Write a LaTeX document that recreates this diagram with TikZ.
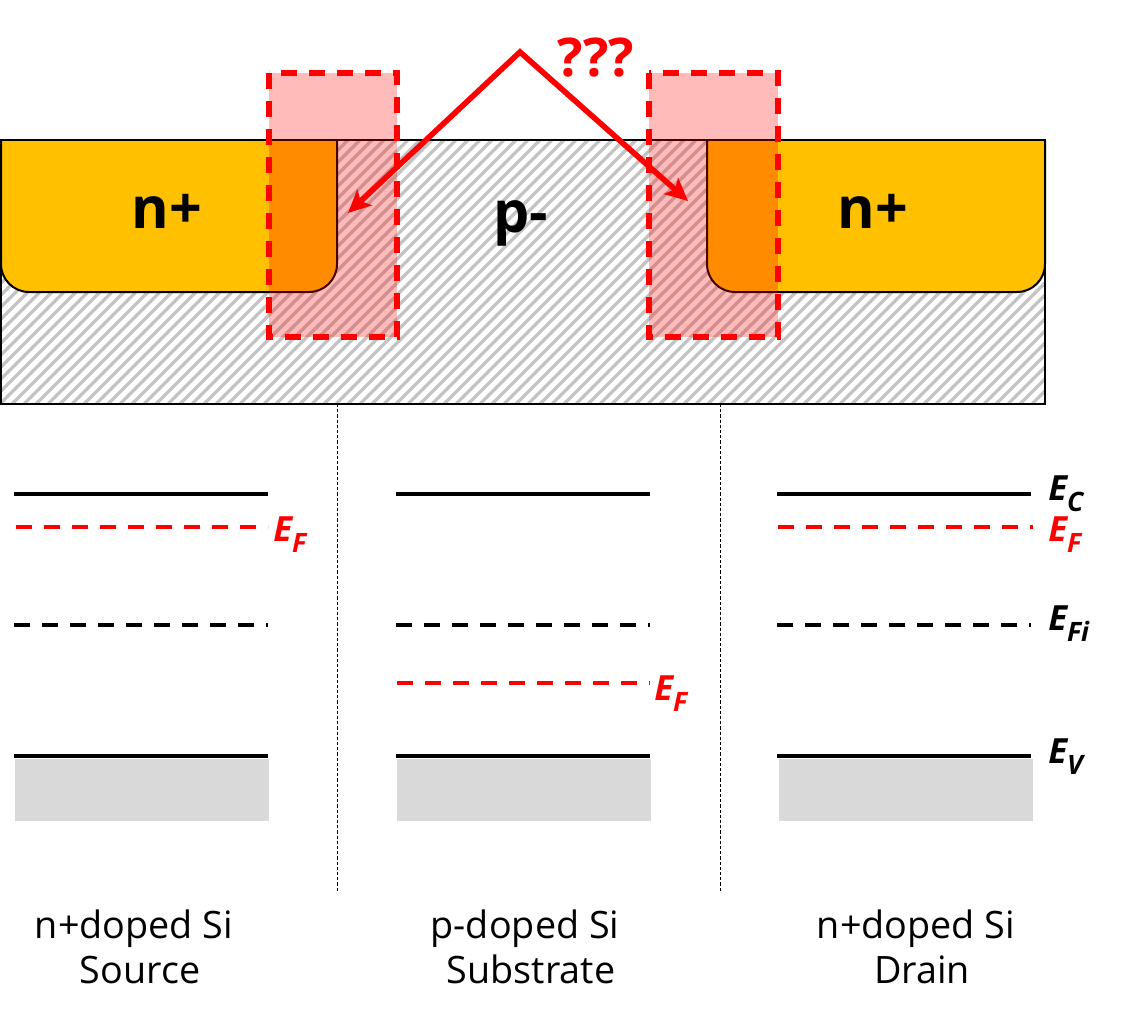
\documentclass[tikz,border=0pt]{standalone}
\usepackage{fontspec}
\setmainfont{Open Sans}
\usetikzlibrary{arrows.meta}
\tikzset{
  x=0.75pt,y=-0.75pt,
  hatch/.style={draw=hatchgray,line width=2.5pt},
  outline/.style={draw=black,line width=1.5pt},
  doped/.style={fill=dopeyellow,draw=black,line width=1.5pt,rounded corners=21pt},
  overlay/.style={fill=red,fill opacity=0.27,draw=none},
  overlayline/.style={draw=red,line width=4pt,dash pattern=on 12pt off 9pt},
  level/.style={draw=black,line width=3.2pt},
  levelred/.style={draw=red,line width=3.2pt,dash pattern=on 12pt off 9pt},
  levelblack/.style={draw=black,line width=3.2pt,dash pattern=on 12pt off 9pt},
  band/.style={fill=bandgray,draw=none},
  divider/.style={draw=black,line width=0.75pt,dash pattern=on 2.4pt off 1.5pt},
  bigtext/.style={font=\fontsize{43}{43}\selectfont\bfseries,anchor=base},
  elabel/.style={font=\fontsize{26}{26}\selectfont\bfseries\itshape,anchor=base west,inner sep=0pt},
  caption/.style={font=\fontsize{28.3}{28.3}\selectfont,anchor=base,inner sep=0pt},
  pointer/.style={draw=red,line width=4.2pt,{Stealth[length=17pt,width=16pt,inset=4pt]}-{Stealth[length=17pt,width=16pt,inset=4pt]},miter limit=10}
}
\definecolor{hatchgray}{HTML}{C4C4C4}
\definecolor{dopeyellow}{HTML}{FFC000}
\definecolor{bandgray}{HTML}{D9D9D9}
\newcommand{\esub}[1]{E\raisebox{-0.32em}{\fontsize{20}{20}\selectfont #1}}
\begin{document}
\begin{tikzpicture}
\useasboundingbox (0,0) rectangle (1131,1015);
\begin{scope}
  \clip (1,140) rectangle (1045,404);
  \foreach \i in {-276,-264,...,1056}
    \draw[hatch] (\i,404) -- (\i+264,140);
\end{scope}
\draw[outline] (1,140) rectangle (1045,404);
\draw[doped] (1,140) -- (1,292) -- (337,292) -- (337,140);
\draw[doped] (707,140) -- (707,292) -- (1045,292) -- (1045,140);
\draw[outline] (1,140) -- (1045,140);
\fill[overlay] (269,73) rectangle (397,337);
\fill[overlay] (649,73) rectangle (778,337);
\draw[overlayline] (269,73) rectangle (397,337);
\draw[overlayline] (649,73) rectangle (778,337);
\node[bigtext] (nl) at (167,228) {n+};
\node[bigtext] (pm) at (521,232) {p-};
\node[bigtext] (nr) at (873,228) {n+};
\node[font=\fontsize{40}{40}\selectfont\bfseries,text=red,anchor=base] (q) at (596,76) {???};
\coordinate (apex) at (520,52);
\coordinate (tipL) at (348,213);
\coordinate (tipR) at (688,201);
\draw[pointer] (tipL) -- (apex) -- (tipR);
\coordinate (d1a) at (337.5,404); \coordinate (d1b) at (337.5,892);
\coordinate (d2a) at (720.5,404); \coordinate (d2b) at (720.5,892);
\draw[divider] (d1a) -- (d1b);
\draw[divider] (d2a) -- (d2b);
\foreach \x/\n in {14/a,396/b,777/c}{
  \draw[level] (\x,494) -- +(254,0);
  \draw[levelblack] (\x,625) -- +(254,0);
  \draw[level] (\x,756) -- +(254,0);
}
\fill[band] (15,759) rectangle (269,821);
\fill[band] (397,759) rectangle (651,821);
\fill[band] (779,759) rectangle (1033,821);
\draw[levelred] (16,527) -- (268,527);
\draw[levelred] (778,527) -- (1033,527);
\draw[levelred] (397,683) -- (650,683);
\node[elabel,text=red] (ef1) at (273,541) {\esub{F}};
\node[elabel,text=red] (ef2) at (654,700) {\esub{F}};
\node[elabel,text=red] (ef3) at (1048,541) {\esub{F}};
\node[elabel] (ec) at (1048,500) {\esub{C}};
\node[elabel] (efi) at (1048,630) {\esub{Fi}};
\node[elabel] (ev) at (1048,763) {\esub{V}};
\node[caption] (c1) at (134,938) {n+doped Si};
\node[caption] (c2) at (140,983) {Source};
\node[caption] (c3) at (525,938) {p-doped Si};
\node[caption] (c4) at (531,983) {Substrate};
\node[caption] (c5) at (916,938) {n+doped Si};
\node[caption] (c6) at (922,983) {Drain};
\end{tikzpicture}
\end{document}
